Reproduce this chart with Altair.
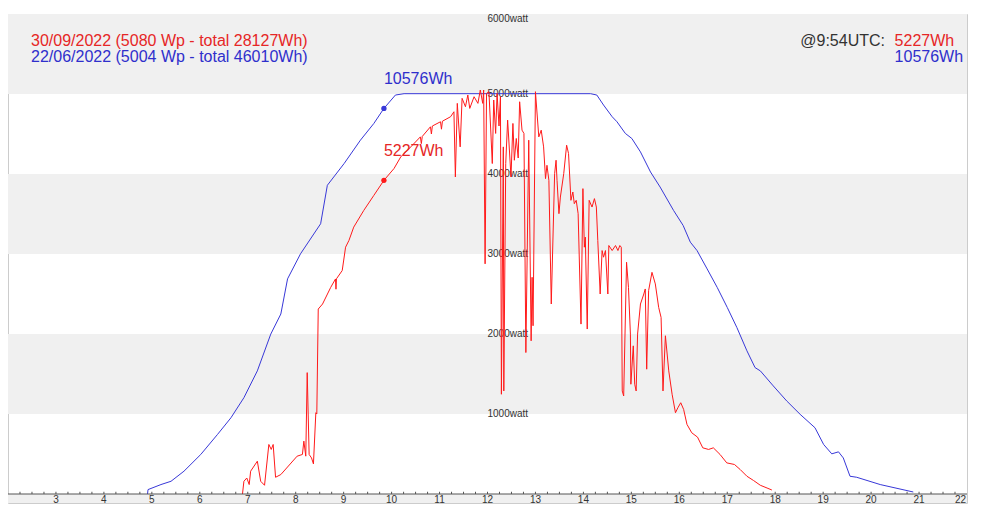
import altair as alt
import pandas as pd

# ---- data ----
blue_label = "22/06/2022 (5004 Wp - total 46010Wh)"
red_label = "30/09/2022 (5080 Wp - total 28127Wh)"
at_label = "@9:54UTC:"
red_now = "5227Wh"
blue_now = "10576Wh"
now_hour = 9.84
red_now_w = 3921
blue_now_w = 4820

blue_h = [4.91, 4.92, 5.19, 5.40, 5.67, 6.02, 6.37, 6.65, 6.92, 7.20, 7.48, 7.69, 7.83, 8.10,
          8.52, 8.66, 9.01, 9.35, 9.63, 9.84, 10.08, 10.26, 14.15, 14.28, 14.42, 14.60, 14.70,
          14.875, 15.01, 15.19, 15.40, 15.60, 15.88, 16.08, 16.23, 16.37, 16.58, 16.79, 17.00,
          17.20, 17.41, 17.58, 17.69, 17.96, 18.24, 18.52, 18.83, 19.01, 19.18, 19.32, 19.42,
          19.56, 19.70, 20.19, 20.88]
blue_w = [0, 55, 118, 159, 285, 494, 745, 953, 1204, 1539, 1999, 2250, 2689, 3002,
          3378, 3859, 4131, 4423, 4632, 4820, 4987, 5004, 5004, 4987, 4862, 4716, 4653,
          4507, 4444, 4276, 4025, 3837, 3545, 3357, 3148, 3043, 2814, 2583, 2332,
          2082, 1790, 1580, 1539, 1351, 1163, 996, 828, 619, 502, 527, 451,
          222, 209, 118, 25]

red_h = [6.89, 6.92, 6.98, 7.03, 7.06, 7.20, 7.27, 7.35, 7.44, 7.49, 7.53, 7.58, 7.69, 8.03,
         8.14, 8.17, 8.21, 8.24, 8.28, 8.33, 8.37, 8.42, 8.44, 8.47, 8.56, 8.73, 8.83, 8.84,
         8.85, 8.97, 9.04, 9.11, 9.21, 9.42, 9.63, 9.84, 10.05, 10.19, 10.40, 10.60, 10.62,
         10.64, 10.81, 10.83, 10.85, 11.02, 11.04, 11.06, 11.23, 11.30, 11.33, 11.37, 11.43,
         11.47, 11.54, 11.59, 11.63, 11.72, 11.80, 11.85, 11.90, 11.92, 11.95, 11.98, 12.03,
         12.10, 12.13, 12.17, 12.20, 12.24, 12.27, 12.29, 12.33, 12.34, 12.38, 12.42, 12.49,
         12.53, 12.56, 12.60, 12.64, 12.67, 12.72, 12.76, 12.80, 12.86, 12.91, 12.93, 12.95,
         13.00, 13.07, 13.12, 13.17, 13.21, 13.24, 13.28, 13.33, 13.40, 13.43, 13.45, 13.49,
         13.52, 13.59, 13.65, 13.69, 13.74, 13.78, 13.81, 13.85, 13.89, 13.95, 13.99, 14.02,
         14.04, 14.08, 14.12, 14.18, 14.23, 14.27, 14.30, 14.35, 14.39, 14.42, 14.46, 14.51,
         14.53, 14.60, 14.67, 14.72, 14.76, 14.79, 14.81, 14.84, 14.90, 14.94, 14.98, 14.99,
         15.04, 15.07, 15.10, 15.13, 15.19, 15.26, 15.29, 15.32, 15.36, 15.43, 15.50, 15.57,
         15.62, 15.66, 15.71, 15.78, 15.85, 15.92, 15.97, 16.03, 16.09, 16.16, 16.26, 16.38,
         16.49, 16.61, 16.71, 16.85, 16.99, 17.15, 17.27, 17.41, 17.55, 17.69, 17.83, 17.93]
red_w = [0, 159, 200, 118, 285, 410, 159, 109, 619, 557, 619, 209, 243, 473,
         494, 661, 473, 1517, 494, 451, 376, 1016, 1000, 2312, 2375, 2583, 2688, 2560,
         2690, 2793, 3085, 3169, 3336, 3545, 3733, 3921, 4068, 4213, 4339, 4464, 4380,
         4470, 4590, 4500, 4600, 4653, 4560, 4660, 4716, 4778, 3963, 4883, 4339,
         4946, 4841, 4987, 4820, 4966, 4883, 5050, 4883, 5050, 2877, 5008, 5029,
         4131, 4925, 4507, 5008, 4600, 4966, 1247, 4339, 1288, 4131, 4674, 3963,
         4632, 4172, 4444, 4200, 4903, 4548, 4507, 1768, 4423, 1915, 2709, 2103,
         5029, 4464, 4548, 4339, 3942, 4109, 3921, 2375, 4005, 4172, 3921, 3504,
         3712, 4005, 4360, 4256, 3671, 3775, 3629, 3671, 3504, 2124, 3817, 3085,
         3211, 2062, 3671, 3587, 3692, 3587, 3169, 2500, 3043, 2960, 3043, 2500,
         3106, 3043, 3106, 3043, 3106, 3085, 1288, 1225, 2897, 2583, 1999, 1372,
         1852, 1372, 1288, 1999, 2375, 2500, 2563, 1560, 2542, 2771, 2626, 2332,
         2207, 1288, 1978, 1539, 1247, 1016, 1078, 1141, 1058, 870, 765, 711,
         577, 557, 577, 494, 389, 369, 306, 222, 168, 109, 75, 50]

band_lo = [5000, 3000, 1000]
band_hi = [6000, 4000, 2000]
watt_vals = [1000, 2000, 3000, 4000, 5000]
watt_top = [6000]
hour_labels = list(range(3, 22))
hour_last = [22]
quarter_ticks = [2 + 0.25 * i for i in range(1, 80)]

RED = "#ff1a1a"
RED_T = "#e62626"
BLUE = "#3838d8"
BLUE_T = "#2f2fcc"
FONT = "Liberation Sans"

Y_MIN = -112.5          # room for the grey label strip under the zero line
W, H = 959, 489
xs = alt.Scale(domain=[2, 22], nice=False, zero=False)
ys = alt.Scale(domain=[Y_MIN, 6000], nice=False, zero=False)

def X():
    return alt.X("h:Q", scale=xs, axis=None)

def Y():
    return alt.Y("w:Q", scale=ys, axis=None)

blue_df = pd.DataFrame({"h": blue_h, "w": blue_w, "i": list(range(len(blue_h)))})
red_df = pd.DataFrame({"h": red_h, "w": red_w, "i": list(range(len(red_h)))})
band_df = pd.DataFrame({"lo": band_lo + [Y_MIN], "hi": band_hi + [0]})
watt_df = pd.DataFrame({"w": watt_vals, "t": [f"{v}watt" for v in watt_vals], "h": [12] * len(watt_vals)})
wtop_df = pd.DataFrame({"w": watt_top, "t": [f"{v}watt" for v in watt_top], "h": [12]})
lab_df = pd.DataFrame({"h": hour_labels, "t": [str(v) for v in hour_labels], "w": [-72] * len(hour_labels)})
last_df = pd.DataFrame({"h": hour_last, "t": [str(v) for v in hour_last], "w": [-72]})
tick_df = pd.DataFrame({"h": quarter_ticks, "w": [0] * len(quarter_ticks), "w2": [28] * len(quarter_ticks)})
base_df = pd.DataFrame({"w": [0]})
rnow_df = pd.DataFrame({"h": [now_hour], "w": [red_now_w], "t": [red_now]})
bnow_df = pd.DataFrame({"h": [now_hour], "w": [blue_now_w], "t": [blue_now]})
# legend texts placed in data space (hours / watts) at the top of the frame
leg_df = pd.DataFrame({
    "t": [red_label, blue_label, red_now, blue_now],
    "h": [2.48, 2.48, 20.49, 20.49],
    "w": [5662, 5462, 5662, 5462],
    "c": ["r", "b", "r", "b"],
})
at_df = pd.DataFrame({"t": [at_label], "h": [20.29], "w": [5662]})

bands = alt.Chart(band_df).mark_rect(color="#f0f0f0").encode(
    y=alt.Y("lo:Q", scale=ys, axis=None), y2="hi:Q")

base_rule = alt.Chart(base_df).mark_rule(color="#555555", strokeWidth=1).encode(y=Y())

ticks = alt.Chart(tick_df).mark_rule(color="#555555", strokeWidth=1).encode(
    x=X(), y=Y(), y2="w2:Q")

hour_txt = alt.Chart(lab_df).mark_text(
    align="center", baseline="middle", fontSize=10, font=FONT, color="#333333").encode(
    x=X(), y=Y(), text="t:N")
last_txt = alt.Chart(last_df).mark_text(
    align="right", baseline="middle", dx=-1, fontSize=10, font=FONT, color="#333333").encode(
    x=X(), y=Y(), text="t:N")

watt_lbl = alt.Chart(watt_df).mark_text(
    align="left", baseline="middle", fontSize=10, font=FONT, color="#333333").encode(
    x=X(), y=Y(), text="t:N")
wtop_lbl = alt.Chart(wtop_df).mark_text(
    align="left", baseline="top", fontSize=10, font=FONT, color="#333333").encode(
    x=X(), y=Y(), text="t:N")

blue_line = alt.Chart(blue_df).mark_line(color=BLUE, strokeWidth=1).encode(
    x=X(), y=Y(), order="i:Q")
red_line = alt.Chart(red_df).mark_line(color=RED, strokeWidth=1).encode(
    x=X(), y=Y(), order="i:Q")

r_pt = alt.Chart(rnow_df).mark_circle(size=28, opacity=1, color=RED).encode(x=X(), y=Y())
b_pt = alt.Chart(bnow_df).mark_circle(size=28, opacity=1, color=BLUE).encode(x=X(), y=Y())
r_tx = alt.Chart(rnow_df).mark_text(align="left", baseline="middle", dy=-29, fontSize=16,
                                   font=FONT, color=RED_T).encode(x=X(), y=Y(), text="t:N")
b_tx = alt.Chart(bnow_df).mark_text(align="left", baseline="middle", dy=-29, fontSize=16,
                                   font=FONT, color=BLUE_T).encode(x=X(), y=Y(), text="t:N")

leg = alt.Chart(leg_df).mark_text(align="left", baseline="middle", fontSize=16, font=FONT).encode(
    x=X(), y=Y(), text="t:N",
    color=alt.Color("c:N", scale=alt.Scale(domain=["r", "b"], range=[RED_T, BLUE_T]), legend=None))
at_tx = alt.Chart(at_df).mark_text(align="right", baseline="middle", fontSize=16, font=FONT,
                                   color="#333333").encode(x=X(), y=Y(), text="t:N")

chart = alt.layer(
    bands, watt_lbl, wtop_lbl, blue_line, red_line, base_rule, ticks, hour_txt, last_txt,
    r_pt, b_pt, r_tx, b_tx, leg, at_tx
).properties(
    width=W, height=H,
    autosize=alt.AutoSizeParams(type="none"),
    padding={"left": 0, "top": 6, "right": 2, "bottom": 2}
).configure_view(
    stroke="#cccccc", strokeWidth=1
)

chart.save("out.html", embed_options={"renderer": "svg", "actions": False})
